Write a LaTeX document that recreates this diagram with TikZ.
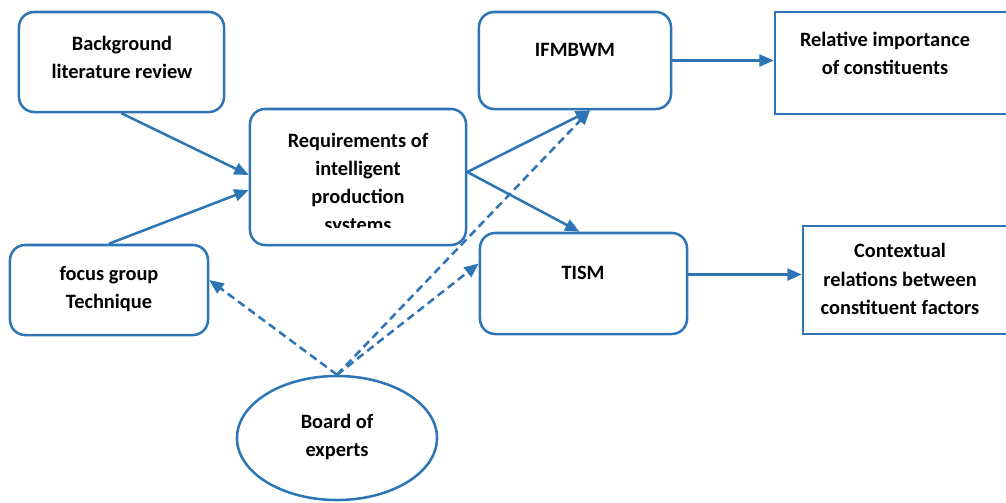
\documentclass[tikz,border=0pt]{standalone}
\usepackage{fontspec}
\setmainfont{Carlito}
\usetikzlibrary{arrows.meta, shapes.geometric}
\definecolor{boxblue}{HTML}{2E75B6}
\tikzset{
	box/.style={draw=boxblue, line width=1.8pt, rounded corners=0.38cm, inner sep=0pt},
	sqbox/.style={draw=boxblue, line width=1.8pt, inner sep=0pt},
	txt/.style={align=center, font=\bfseries\fontsize{14.5}{20}\selectfont, inner sep=0pt},
	flow/.style={draw=boxblue, line width=1.8pt, ->},
	help/.style={flow, dash pattern=on 0.2cm off 0.12cm}
}
\begin{document}
\begin{tikzpicture}[x=0.025cm, y=-0.025cm, >={Triangle[length=0.36cm,width=0.3cm]}]
	\useasboundingbox (0,0) rectangle (1006,502);
	%%% Boxes
	% left column
	\node[box, minimum width=5.125cm, minimum height=2.5cm] (bg) at (121.5,62) {};
	\node[txt] (bgtxt) at (122,57) {Background\\literature review};
	\node[box, minimum width=4.95cm, minimum height=2.25cm] (fg) at (109,290) {};
	\node[txt] (fgtxt) at (109,289) {focus group\\Technique};
	% requirements
	\node[box, minimum width=5.4cm, minimum height=3.4cm] (req) at (358,177) {};
	\begin{scope}
		\clip (250,109) rectangle (466,227);
		\node[txt] (reqtxt) at (358,184) {Requirements of\\intelligent\\production\\systems};
	\end{scope}
	% methods
	\node[box, minimum width=4.8cm, minimum height=2.425cm] (ifm) at (575,60.5) {};
	\node[txt] (ifmtxt) at (575,50) {IFMBWM};
	\node[box, minimum width=5.175cm, minimum height=2.525cm] (tism) at (583.5,283.5) {};
	\node[txt] (tismtxt) at (583,273) {TISM};
	% results
	\node[sqbox, minimum width=5.925cm, minimum height=2.55cm] (rel) at (893.5,63) {};
	\node[txt] (reltxt) at (885,53) {Relative importance\\of constituents};
	\node[sqbox, minimum width=5.225cm, minimum height=2.7cm] (ctx) at (907.5,280) {};
	\node[txt] (ctxtxt) at (900,279) {Contextual\\relations between\\constituent factors};
	% experts
	\node[ellipse, draw=boxblue, line width=1.8pt, minimum width=5cm, minimum height=3.1cm, inner sep=0pt] (boe) at (337,438) {};
	\node[txt] (boetxt) at (337,437) {Board of\\experts};
	
	%%% Arrows
	\coordinate (ifmin) at ([xshift=0.375cm]ifm.south);
	\coordinate (reqout) at ([yshift=0.125cm]req.east);
	\draw[flow] (bg.south) -- ([yshift=0.05cm]req.west);
	\draw[flow] (fg.north) -- ([yshift=-0.325cm]req.west);
	\draw[flow] (reqout) -- (ifmin);
	\draw[flow] (reqout) -- ([xshift=-0.1cm]tism.north);
	\draw[flow] (ifm.east) -- (ifm.east -| rel.west);
	\draw[flow] ([yshift=0.225cm]tism.east) -- ([yshift=0.225cm]tism.east -| ctx.west);
	% dashed
	\draw[help] (boe.north) -- ([yshift=0.25cm]fg.east);
	\draw[help] (boe.north) -- (ifmin);
	\draw[help] (boe.north) -- ([yshift=0.5cm]tism.west);
\end{tikzpicture}
\end{document}
